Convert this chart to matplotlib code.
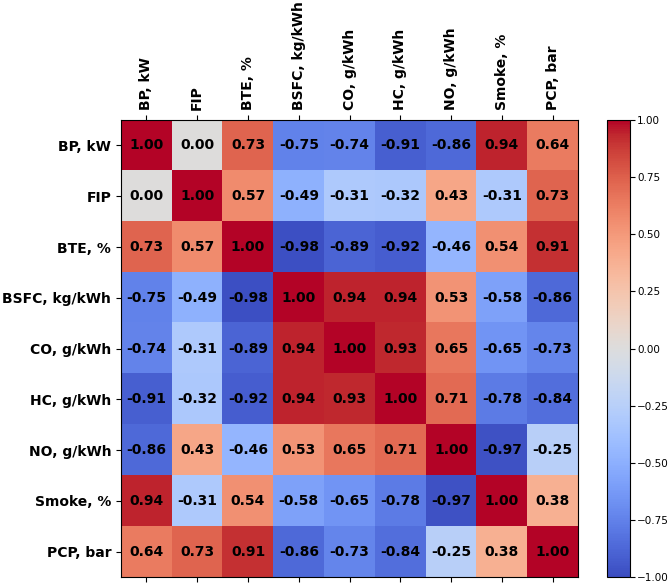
import numpy as np
import matplotlib.pyplot as plt

labels = ['BP, kW', 'FIP', 'BTE, %', 'BSFC, kg/kWh', 'CO, g/kWh',
          'HC, g/kWh', 'NO, g/kWh', 'Smoke, %', 'PCP, bar']

corr = np.array([
    [1.00, 0.00, 0.73, -0.75, -0.74, -0.91, -0.86, 0.94, 0.64],
    [0.00, 1.00, 0.57, -0.49, -0.31, -0.32, 0.43, -0.31, 0.73],
    [0.73, 0.57, 1.00, -0.98, -0.89, -0.92, -0.46, 0.54, 0.91],
    [-0.75, -0.49, -0.98, 1.00, 0.94, 0.94, 0.53, -0.58, -0.86],
    [-0.74, -0.31, -0.89, 0.94, 1.00, 0.93, 0.65, -0.65, -0.73],
    [-0.91, -0.32, -0.92, 0.94, 0.93, 1.00, 0.71, -0.78, -0.84],
    [-0.86, 0.43, -0.46, 0.53, 0.65, 0.71, 1.00, -0.97, -0.25],
    [0.94, -0.31, 0.54, -0.58, -0.65, -0.78, -0.97, 1.00, 0.38],
    [0.64, 0.73, 0.91, -0.86, -0.73, -0.84, -0.25, 0.38, 1.00],
])

fig = plt.figure(figsize=(6.69, 5.83), dpi=100)
ax = fig.add_axes([0.181, 0.010, 0.683, 0.784])
cax = fig.add_axes([0.907, 0.010, 0.034, 0.784])

im = ax.imshow(corr, cmap='coolwarm', vmin=-1, vmax=1, aspect='auto')
cb = fig.colorbar(im, cax=cax)
cb.set_ticks([-1, -0.75, -0.5, -0.25, 0, 0.25, 0.5, 0.75, 1])
cb.ax.tick_params(labelsize=7.5, pad=2)

n = len(labels)
ax.set_xticks(range(n))
ax.set_yticks(range(n))
ax.set_xticklabels(labels, rotation=90, fontsize=10, fontweight='bold')
ax.set_yticklabels(labels, fontsize=10, fontweight='bold')
ax.tick_params(top=True, labeltop=True, bottom=True, labelbottom=False)

#values in each cell
for i in range(n):
    for j in range(n):
        ax.text(j, i, f"{corr[i, j]:.2f}", ha='center', va='center',
                fontsize=10, fontweight='bold', color='black')

fig.savefig('out.png', dpi=100)
